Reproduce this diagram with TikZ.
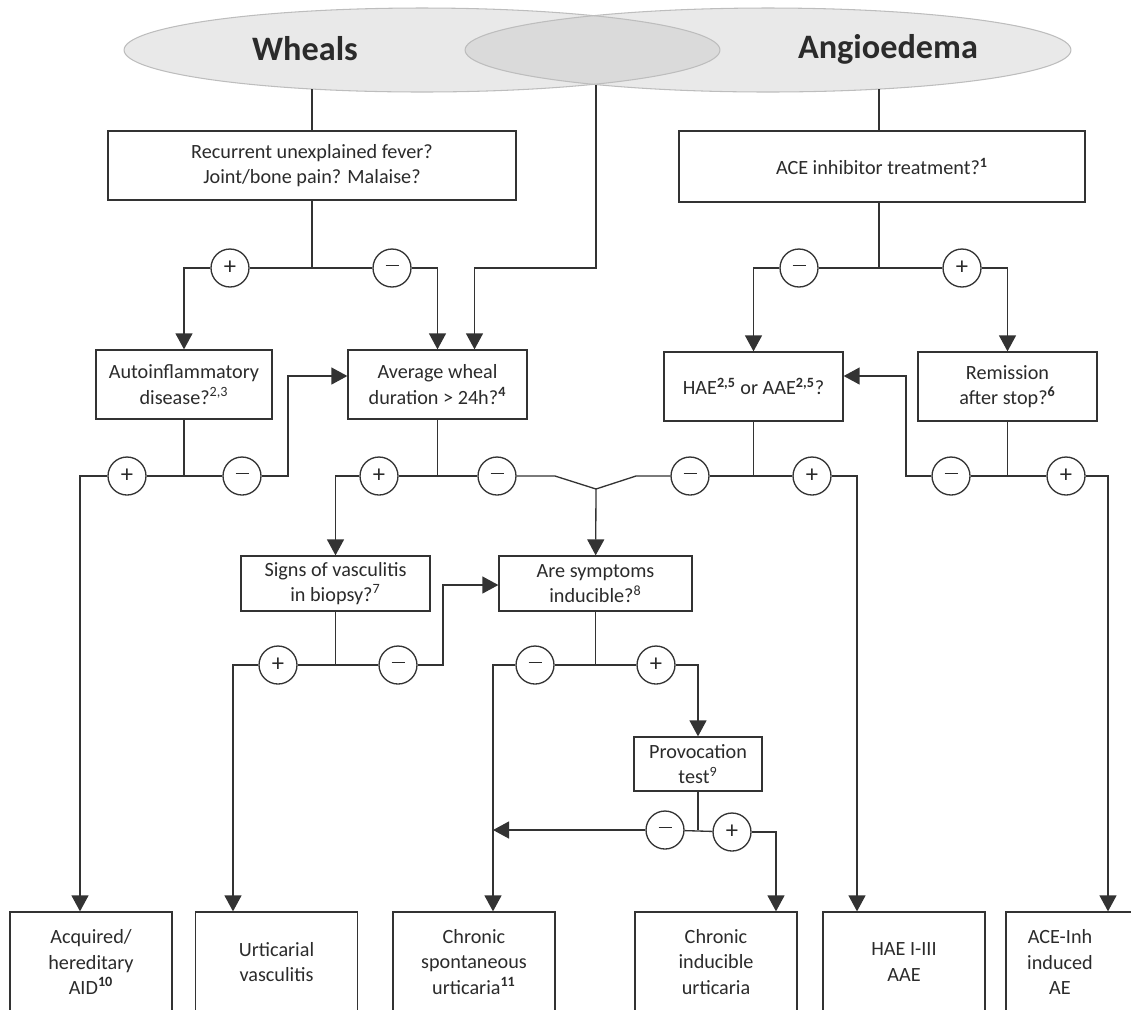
\documentclass[tikz,border=0pt]{standalone}
\usepackage{fontspec}
\setmainfont{Carlito}
\usepackage{tikz}
\usetikzlibrary{arrows.meta,calc}
\definecolor{linea}{HTML}{333333}
\definecolor{testo}{HTML}{2B2B2B}
\definecolor{ellisse}{HTML}{E9E9E9}
\definecolor{sovrap}{HTML}{DADADA}
\definecolor{bordoell}{HTML}{BDBDBD}
\newcommand{\meno}{\rule[2.5pt]{0.26cm}{0.6pt}}

\begin{document}
\begin{tikzpicture}[x=0.02cm, y=-0.02cm,
    domanda/.style={draw=linea, line width=0.75pt, fill=white, text=testo, align=center,
      inner sep=2pt, font=\fontsize{11.5}{14.5}\selectfont},
    esito/.style={domanda, minimum width=3.24cm, minimum height=2cm},
    segno/.style={circle, draw=linea, line width=0.75pt, fill=white, text=testo,
      minimum size=0.76cm, inner sep=0pt, font=\fontsize{14}{14}\selectfont},
    titolo/.style={text=testo, font=\fontsize{19.5}{19.5}\selectfont\bfseries},
    conn/.style={draw=linea, line width=0.75pt},
    freccia/.style={conn, -{Triangle[width=0.34cm,length=0.32cm]}}
  ]
  \useasboundingbox (0,0) rectangle (1131,1009);
  % Ellissi
  \fill[ellisse] (422,50) ellipse [x radius=5.96cm, y radius=0.84cm];
  \fill[ellisse] (768,50) ellipse [x radius=6.06cm, y radius=0.84cm];
  \begin{scope}
    \clip (422,50) ellipse [x radius=5.96cm, y radius=0.84cm];
    \fill[sovrap] (768,50) ellipse [x radius=6.06cm, y radius=0.84cm];
  \end{scope}
  \draw[bordoell, line width=0.6pt] (422,50) ellipse [x radius=5.96cm, y radius=0.84cm];
  \draw[bordoell, line width=0.6pt] (768,50) ellipse [x radius=6.06cm, y radius=0.84cm];
  \node[titolo] (wheals) at (305,49) {Wheals};
  \node[titolo] (angio) at (888,49) {Angioedema};
  \coordinate (wh) at (312,89);
  \coordinate (ov) at (596,85);
  \coordinate (an) at (879,89);

  % Domande
  \node[domanda, minimum width=8.16cm, minimum height=1.38cm] (fever) at (312,165.5)
    {Recurrent unexplained fever?\\Joint/bone pain? Malaise?};
  \node[domanda, minimum width=8.12cm, minimum height=1.42cm] (ace) at (882,166.5)
    {ACE inhibitor treatment?\textsuperscript{\textbf{1}}};
  \node[domanda, minimum width=3.52cm, minimum height=1.38cm] (autoinfl) at (184,384.5)
    {Autoinflammatory\\disease?\textsuperscript{2,3}};
  \node[domanda, minimum width=3.58cm, minimum height=1.38cm] (avg) at (437.5,384.5)
    {Average wheal\\duration > 24h?\textsuperscript{\textbf{4}}};
  \node[domanda, minimum width=3.58cm, minimum height=1.38cm] (hae) at (753.5,386.5)
    {HAE\textsuperscript{\textbf{2,5}} or AAE\textsuperscript{\textbf{2,5}}?};
  \node[domanda, minimum width=3.58cm, minimum height=1.38cm] (remis) at (1007.5,386.5)
    {Remission\\after stop?\textsuperscript{\textbf{6}}};
  \node[domanda, minimum width=3.78cm, minimum height=1.1cm] (signs) at (335.5,583.5)
    {Signs of vasculitis\\in biopsy?\textsuperscript{7}};
  \node[domanda, minimum width=3.86cm, minimum height=1.1cm] (sympt) at (595.5,583.5)
    {Are symptoms\\inducible?\textsuperscript{8}};
  \node[domanda, minimum width=2.56cm, minimum height=1.08cm] (provoc) at (698,764)
    {Provocation\\test\textsuperscript{9}};

  % Esiti
  \node[esito] (b1) at (91,962) {Acquired/\\hereditary\\AID\textsuperscript{\textbf{10}}};
  \node[esito] (b2) at (276.5,962) {Urticarial\\vasculitis};
  \node[esito] (b3) at (474,962) {Chronic\\spontaneous\\urticaria\textsuperscript{\textbf{11}}};
  \node[esito] (b4) at (716,962) {Chronic\\inducible\\urticaria};
  \node[esito] (b5) at (904,962) {HAE I-III\\AAE};
  \node[esito] (b6) at (1087,962) {};
  \node[text=testo, align=center, font=\fontsize{11.5}{14.5}\selectfont] (b6t) at (1060,962)
    {ACE-Inh\\induced\\AE};

  % Segni + e -
  \node[segno] (p1) at (230,268) {+};
  \node[segno] (m1) at (392,268) {\meno};
  \node[segno] (m2) at (799,268) {\meno};
  \node[segno] (p2) at (962,268) {+};
  \node[segno] (p3) at (127,476) {+};
  \node[segno] (m3) at (242,476) {\meno};
  \node[segno] (p4) at (379,476) {+};
  \node[segno] (m4) at (497,476) {\meno};
  \node[segno] (m5) at (690,476) {\meno};
  \node[segno] (p5) at (812,476) {+};
  \node[segno] (m6) at (951,476) {\meno};
  \node[segno] (p6) at (1066,476) {+};
  \node[segno] (p7) at (278,665) {+};
  \node[segno] (m7) at (398,665) {\meno};
  \node[segno] (m8) at (535,665) {\meno};
  \node[segno] (p8) at (656,665) {+};
  \node[segno] (m9) at (665,830) {\meno};
  \node[segno] (p9) at (732,832) {+};

  % Punti di appoggio
  \coordinate (k3) at (288,376);
  \coordinate (k6) at (906,376);
  \coordinate (k7) at (443,585);
  \coordinate (mgL) at (555,476);
  \coordinate (mg) at (596,489);
  \coordinate (mgR) at (636,476);
  \coordinate (k8) at ($(b3.north)+(19,0)$);

  % Collegamenti
  \draw[conn] (wh) -- (fever);
  \draw[conn] (an) -- (an |- ace.north);
  \draw[conn] (fever.south) -- (fever.south |- p1);
  \draw[conn] (p1) -- (m1);
  \draw[freccia] (p1) -| (autoinfl);
  \draw[freccia] (m1) -| (avg);
  \draw[freccia] (ov) -- (ov |- m1) -| ($(avg.north)+(37,0)$);

  \draw[conn] (ace.south -| an) -- (an |- m2);
  \draw[conn] (m2) -- (p2);
  \draw[freccia] (m2) -| (hae);
  \draw[freccia] (p2) -| (remis);

  \draw[conn] (autoinfl) -- (autoinfl |- p3);
  \draw[conn] (p3) -- (m3);
  \draw[freccia] (p3) -| ($(b1.north)+(-11,0)$);
  \draw[freccia] (m3) -| (k3) -- (avg.west |- k3);

  \draw[conn] (avg) -- (avg |- p4);
  \draw[conn] (p4) -- (m4);
  \draw[freccia] (p4) -| (signs);
  \draw[conn] (m4) -- (mgL) -- (mg) -- (mgR) -- (m5);
  \draw[freccia] (mg) -- (sympt);

  \draw[conn] (hae) -- (hae |- m5);
  \draw[conn] (m5) -- (p5);
  \draw[freccia] (p5) -| ($(b5.north)+(-47,0)$);

  \draw[conn] (remis) -- (remis |- m6);
  \draw[conn] (m6) -- (p6);
  \draw[freccia] (m6) -| (k6) -- (hae.east |- k6);
  \draw[freccia] (p6) -| ($(b6.north)+(21,0)$);

  \draw[conn] (signs) -- (signs |- p7);
  \draw[conn] (p7) -- (m7);
  \draw[freccia] (p7) -| ($(b2.north)+(-43.5,0)$);
  \draw[freccia] (m7) -| (k7) -- (sympt.west |- k7);

  \draw[conn] (sympt) -- (sympt |- m8);
  \draw[conn] (m8) -- (p8);
  \draw[freccia] (m8) -| (k8);
  \draw[freccia] (p8) -| (provoc);

  \draw[conn] (provoc) -- (provoc |- m9);
  \draw[conn] (m9) -- (p9);
  \draw[freccia] (m9) -- (m9 -| k8);
  \draw[freccia] (p9) -| ($(b4.north)+(60,0)$);
\end{tikzpicture}
\end{document}
